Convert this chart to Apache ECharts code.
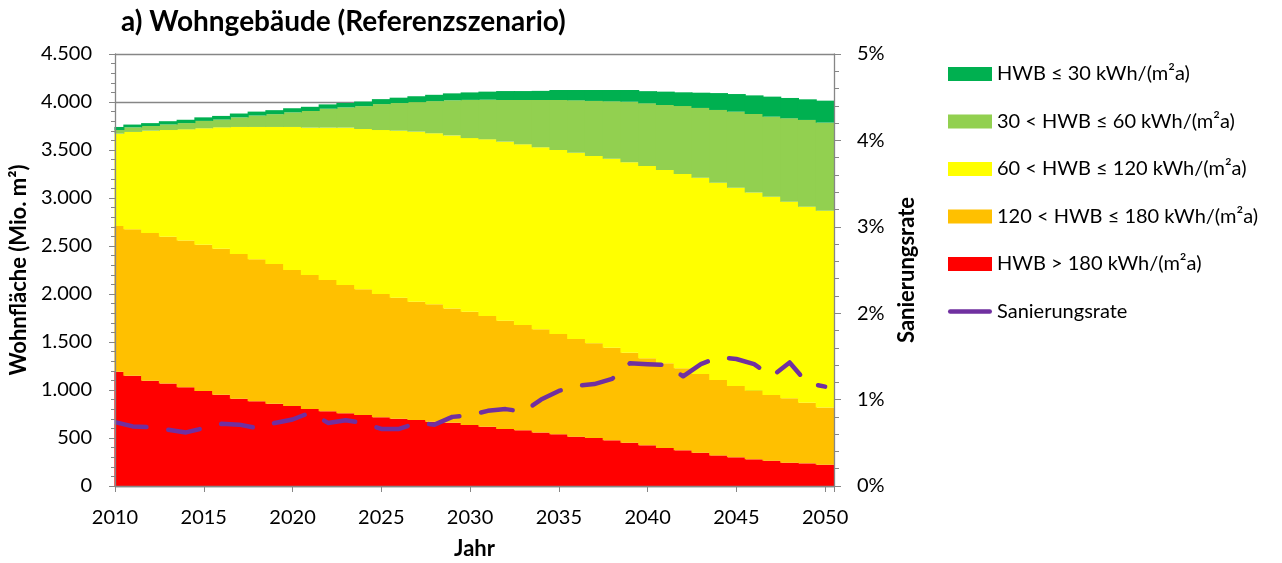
<!DOCTYPE html>
<html>
<head>
<meta charset="utf-8">
<script src="https://cdn.jsdelivr.net/npm/echarts@6/dist/echarts.min.js"></script>
<style>
  html, body { margin: 0; padding: 0; background: #fff; }
  #chart { width: 1282px; height: 563px; }
</style>
</head>
<body>
<div id="chart"></div>
<script>
// Jahre 2010-2050
const years = [2010, 2011, 2012, 2013, 2014, 2015, 2016, 2017, 2018, 2019,
  2020, 2021, 2022, 2023, 2024, 2025, 2026, 2027, 2028, 2029,
  2030, 2031, 2032, 2033, 2034, 2035, 2036, 2037, 2038, 2039,
  2040, 2041, 2042, 2043, 2044, 2045, 2046, 2047, 2048, 2049, 2050]

// Wohnfläche in Mio. m² je HWB-Klasse
const hwbOver180 = [1191, 1149, 1097, 1069, 1028, 990, 951, 910, 882, 858,
  833, 802, 778, 757, 740, 715, 701, 688, 670, 660,
  635, 618, 594, 580, 556, 538, 514, 500, 476, 451,
  424, 396, 372, 347, 319, 299, 278, 264, 243, 236, 222]
const hwb120to180 = [1517, 1525, 1539, 1528, 1528, 1524, 1521, 1507, 1479, 1455,
  1417, 1396, 1368, 1337, 1309, 1285, 1261, 1232, 1222, 1189,
  1180, 1153, 1128, 1097, 1076, 1045, 1017, 986, 965, 938,
  906, 882, 854, 820, 785, 743, 715, 684, 670, 632, 597]
const hwb60to120 = [962, 1014, 1065, 1111, 1159, 1212, 1264, 1323, 1379, 1427,
  1490, 1535, 1587, 1639, 1670, 1708, 1739, 1771, 1782, 1803,
  1809, 1840, 1865, 1882, 1896, 1917, 1941, 1952, 1969, 1983,
  2003, 2014, 2024, 2045, 2056, 2066, 2063, 2066, 2049, 2042, 2049]
const hwb30to60 = [38, 48, 49, 58, 65, 77, 81, 100, 119, 133,
  152, 173, 197, 211, 238, 270, 288, 308, 335, 366,
  398, 413, 434, 462, 493, 521, 545, 573, 597, 631,
  653, 677, 708, 726, 757, 791, 819, 833, 868, 903, 917]
const hwbUnder30 = [32, 29, 30, 34, 35, 37, 38, 40, 41, 42,
  43, 44, 45, 46, 48, 52, 56, 61, 66, 72,
  78, 84, 93, 93, 95, 104, 108, 114, 118, 122,
  127, 139, 143, 159, 176, 184, 194, 209, 212, 215, 229]

// Sanierungsrate in %
const sanierungsrate = [0.74, 0.69, 0.68, 0.65, 0.62, 0.67, 0.72, 0.71, 0.67, 0.73,
  0.77, 0.85, 0.73, 0.76, 0.73, 0.66, 0.66, 0.73, 0.71, 0.80,
  0.82, 0.87, 0.89, 0.86, 1.00, 1.10, 1.16, 1.18, 1.24, 1.42,
  1.41, 1.40, 1.27, 1.41, 1.49, 1.47, 1.41, 1.27, 1.43, 1.19, 1.15]

const names = [
  'HWB ≤ 30 kWh/(m²a)',
  '30 < HWB ≤ 60 kWh/(m²a)',
  '60 < HWB ≤ 120 kWh/(m²a)',
  '120 < HWB ≤ 180 kWh/(m²a)',
  'HWB > 180 kWh/(m²a)',
  'Sanierungsrate'
]

const font = 'Lato, "Open Sans", sans-serif'
const axisGray = '#868686'
const grid = { left: 115, right: 448, top: 54, bottom: 77 }

// thousands separator like "4.500"
const fmtThousands = v => {
  if (v < 1000) return String(v)
  return Math.floor(v / 1000) + '.' + String(v % 1000).padStart(3, '0')
}

// value first so the stack is done on the value dimension (x axis is a value axis)
const barSeries = (name, data, color) => ({
  name,
  type: 'bar',
  stack: 'flaeche',
  data: years.map((y, i) => [data[i], y]),
  encode: { x: 1, y: 0 },
  barWidth: '106%',
  itemStyle: { color },
  emphasis: { disabled: true },
  z: 2
})

const chart = echarts.init(document.getElementById('chart'), null, { renderer: 'canvas' })

chart.setOption({
  animation: false,
  backgroundColor: '#fff',
  textStyle: { fontFamily: font, color: '#000' },
  title: {
    text: 'a) Wohngebäude (Referenzszenario)',
    left: 116,
    top: 3,
    textStyle: { fontFamily: font, fontSize: 28, fontWeight: 'bold', color: '#000' }
  },
  legend: {
    orient: 'vertical',
    left: 943,
    top: 59,
    itemWidth: 44,
    itemHeight: 14,
    itemGap: 27.5,
    icon: 'rect',
    selectedMode: false,
    textStyle: { fontFamily: font, fontSize: 20, color: '#000' },
    data: [
      names[0], names[1], names[2], names[3], names[4],
      { name: names[5], icon: 'path://M2,0 L38,0 A2,2 0 0 1 38,4 L2,4 A2,2 0 0 1 2,0 Z' }
    ]
  },
  // bars on a value axis are not clipped at the left edge, so the 2010 half bar is masked
  graphic: {
    elements: [{
      type: 'rect',
      z: 5,
      silent: true,
      shape: { x: grid.left - 16, y: grid.top, width: 15.4, height: 563 - grid.top - grid.bottom },
      style: { fill: '#fff' }
    }]
  },
  grid: { ...grid, containLabel: false, outerBoundsMode: 'none' },
  xAxis: {
    type: 'value',
    min: 2010,
    max: 2050.5,
    interval: 5,
    z: 10,
    name: 'Jahr',
    nameLocation: 'middle',
    nameGap: 52,
    nameTextStyle: { fontFamily: font, fontSize: 22, fontWeight: 'bold', color: '#000' },
    axisLine: { show: true, lineStyle: { color: axisGray, width: 1.3 } },
    axisTick: { show: true, length: 6, lineStyle: { color: axisGray } },
    axisLabel: {
      margin: 22,
      fontSize: 20,
      color: '#000',
      formatter: v => (v % 5 === 0 ? String(v) : '')
    },
    splitLine: { show: false }
  },
  yAxis: [
    {
      // gridlines only, kept under the bars
      type: 'value',
      min: 0,
      max: 4500,
      interval: 500,
      z: 0,
      axisLine: { show: false },
      axisTick: { show: false },
      axisLabel: { show: false },
      splitLine: { show: true, lineStyle: { color: axisGray, width: 1.3 } }
    },
    {
      type: 'value',
      min: 0,
      max: 5,
      interval: 1,
      position: 'right',
      z: 10,
      name: 'Sanierungsrate',
      nameLocation: 'middle',
      nameGap: 62,
      nameRotate: 90,
      nameTextStyle: { fontFamily: font, fontSize: 22, fontWeight: 'bold', color: '#000' },
      axisLine: { show: true, lineStyle: { color: axisGray, width: 1.3 } },
      axisTick: { show: true, length: 7, lineStyle: { color: axisGray } },
      minorTick: { show: true, splitNumber: 5, length: 5, lineStyle: { color: axisGray } },
      axisLabel: { margin: 23, fontSize: 20, color: '#000', formatter: '{value}%' },
      splitLine: { show: false }
    },
    {
      // left axis line, ticks and labels drawn above the mask
      type: 'value',
      min: 0,
      max: 4500,
      interval: 500,
      position: 'left',
      offset: 0,
      z: 10,
      name: 'Wohnfläche (Mio. m²)',
      nameLocation: 'middle',
      nameGap: 75,
      nameTextStyle: { fontFamily: font, fontSize: 22, fontWeight: 'bold', color: '#000' },
      axisLine: { show: true, lineStyle: { color: axisGray, width: 1.3 } },
      axisTick: { show: true, length: 6, lineStyle: { color: axisGray } },
      minorTick: { show: true, splitNumber: 5, length: 4, lineStyle: { color: axisGray } },
      axisLabel: { margin: 23, fontSize: 20, color: '#000', formatter: fmtThousands },
      splitLine: { show: false }
    }
  ],
  series: [
    barSeries(names[4], hwbOver180, '#FF0000'),
    barSeries(names[3], hwb120to180, '#FFC000'),
    barSeries(names[2], hwb60to120, '#FFFF00'),
    barSeries(names[1], hwb30to60, '#92D050'),
    barSeries(names[0], hwbUnder30, '#00B050'),
    {
      name: names[5],
      type: 'line',
      yAxisIndex: 1,
      data: years.map((y, i) => [y, sanierungsrate[i]]),
      symbol: 'none',
      z: 4,
      itemStyle: { color: '#7030A0' },
      lineStyle: { color: '#7030A0', width: 4.5, type: [32, 22], cap: 'round', join: 'round' },
      emphasis: { disabled: true }
    }
  ]
})
</script>
</body>
</html>
